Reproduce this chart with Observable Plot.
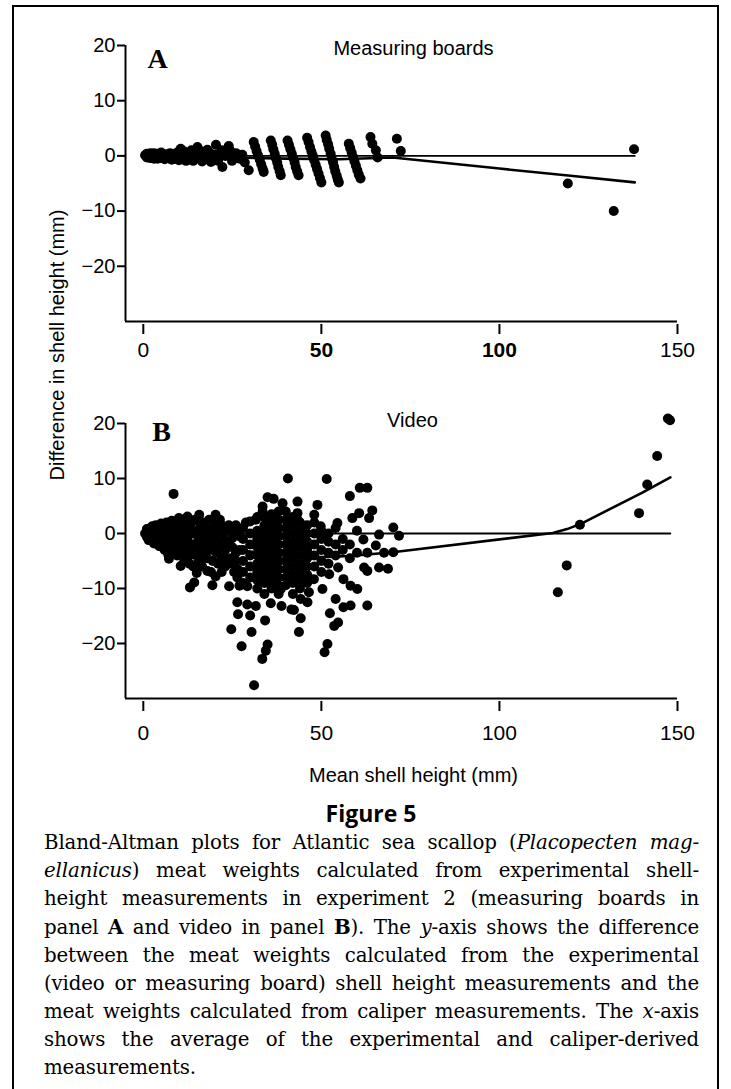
<!DOCTYPE html>
<html><head><meta charset="utf-8">
<script src="https://cdn.jsdelivr.net/npm/d3@7"></script>
<script src="https://cdn.jsdelivr.net/npm/@observablehq/plot@0.6"></script>
<style>
body{margin:0;background:#fff;}
#page{position:relative;width:731px;height:1089px;overflow:hidden;font-family:"Liberation Sans",Arial,sans-serif;color:#000;}
#frame{position:absolute;left:12px;top:5px;width:703px;height:1200px;border:2px solid #000;}
#pa{position:absolute;left:0;top:0;}
#pb{position:absolute;left:0;top:380px;}
#ylab{position:absolute;left:57px;top:345px;transform:translate(-50%,-50%) rotate(-90deg);white-space:nowrap;font-size:20px;}
#fig{position:absolute;left:0;width:742px;top:797px;text-align:center;font-family:"Open Sans","Noto Sans",sans-serif;font-weight:700;font-size:23px;}
#cap{position:absolute;left:44px;top:829px;width:655px;font-family:"DejaVu Serif",serif;font-size:19.8px;line-height:28px;letter-spacing:-0.15px;}
#cap div{text-align:justify;text-align-last:justify;white-space:nowrap;}
#cap div.last{text-align-last:left;}
</style></head>
<body><div id="page">
<div id="frame"></div>
<div id="pa"></div>
<div id="pb"></div>
<div id="ylab">Difference in shell height (mm)</div>
<div id="fig">Figure 5</div>
<div id="cap">
<div>Bland-Altman plots for Atlantic sea scallop (<i>Placopecten mag-</i></div>
<div><i>ellanicus</i>) meat weights calculated from experimental shell-</div>
<div>height measurements in experiment 2 (measuring boards in</div>
<div>panel <b>A</b> and video in panel <b>B</b>). The <i>y</i>-axis shows the difference</div>
<div>between the meat weights calculated from the experimental</div>
<div>(video or measuring board) shell height measurements and the</div>
<div>meat weights calculated from caliper measurements. The <i>x</i>-axis</div>
<div>shows the average of the experimental and caliper-derived</div>
<div class="last">measurements.</div>
</div>
</div>
<script>
const xTicks = [0, 50, 100, 150];
const yTicks = [-20, -10, 0, 10, 20];
const panelTitles = ["Measuring boards", "Video"];
const panelLetters = ["A", "B"];
const xLabel = "Mean shell height (mm)";

// Panel A: measuring boards [mean, difference]
const boardPts = [
[0.5,0.1],[1,0.4],[1,-0.3],[1.5,0],[2,0.5],[2,-0.4],[2.5,0.1],[3,-0.5],[3,0.5],[3.5,0],[4,0.4],[4,-0.5],[4.5,0.1],[5,0.6],[5,-0.4],[5.5,0],[6,-0.6],[6.5,0.3],[7,-0.3],[7.5,0.5],[8,-0.7],[8.5,0.2],[9,-0.5],[9.5,0.6],[10,-0.8],[10.5,1.3],[10.5,0],[11,-0.6],[11.5,0.8],[12,-0.9],[12.5,0.3],[13,-0.5],[13.5,1],[14,-0.9],[14.5,0.4],[15.2,1.6],[15.5,-0.3],[16,0.9],[16.5,-1],[17,0.3],[17.5,-0.6],[18,1.1],[19,-1.1],[19,0.4],[20.4,2],[20.5,0.2],[21,-0.9],[22.2,-2],[22,1],[23,0],
[24,1.8],[24.3,1],[24.6,0.2],[24.9,-0.9],[26,0.5],[27,-0.5],[27.8,0.2],[28.5,-1.2],[29.6,-2.6],
[31,2.5],[31.4,1.7],[31.8,0.9],[32.2,0.1],[32.7,-0.7],[33.1,-1.5],[33.5,-2.3],[33.8,-2.9],
[35.8,2.8],[36.2,2],[36.5,1.2],[36.9,0.4],[37.2,-0.4],[37.6,-1.2],[37.9,-2],[38.3,-2.8],[38.6,-3.5],
[40.5,2.8],[40.9,2],[41.3,1.2],[41.7,0.4],[42.1,-0.4],[42.5,-1.2],[42.8,-2],[43.2,-2.8],[43.6,-3.5],
[46,3.3],[46.4,2.5],[46.8,1.6],[47.2,0.8],[47.6,0],[48,-0.8],[48.4,-1.6],[48.8,-2.4],[49.2,-3.2],[49.6,-4],[50,-4.8],
[51.2,3.7],[51.5,2.9],[51.9,2.1],[52.2,1.3],[52.6,0.4],[52.9,-0.4],[53.3,-1.2],[53.6,-2],[53.9,-2.8],[54.3,-3.6],[54.6,-4.3],[54.9,-4.8],
[57.7,2.2],[58.1,1.4],[58.5,0.6],[58.9,-0.2],[59.3,-1],[59.7,-1.8],[60.1,-2.6],[60.5,-3.4],[61,-4.1],
[63.8,3.4],[64.3,2.2],[65.3,1],[65.8,-0.3],
[71.2,3.1],[72.3,0.9],
[119.2,-5],[132.1,-10],[137.8,1.2]
];
const boardZero = [[0,0],[138,0]];
const boardFit = [[1,0],[20,-0.2],[40,-0.5],[55,-0.6],[70,-0.3],[100,-2.3],[120,-3.6],[138,-4.8]];

// Panel B: video [mean, difference]
const videoPts = [
[0.5,0],[1,0.8],[1,-0.6],[1.5,0.3],[2,-1],[2,1],[2.5,0],[3,-0.5],[3,0.8],[3.5,-1.5],[4,0.5],[4,-0.8],[4.5,1.2],[5,-0.2],[5,-1.8],[5.5,0.8],[6,-1],[6,1.3],[6.5,-2.5],[7,0.2],[7,-1.5],[7.5,1],[7.2,-4.6],[8,-0.5],[8,-2.2],[8.5,7.2],[8.5,1.5],
[1.5,-1.2],[2.5,1.3],[3,-1.8],[3.5,1.5],[4.5,-2.3],[5,1.8],[6,-3],[6.5,2],[7,-3.8],[8,2.3],[8.5,-1.5],[9,1.5],[9.5,-4],[10,0.8],[11,2.5],[11,-2.8],[11.5,-4.8],[12,-1.5],[12.5,1],[13,-5.5],[13.5,2],[14,-3.8],[15,0.5],[15,-2.5],[16,-4],[16.5,-6],[17,-2.5],[17.5,0.8],[18,-4.5],[18.5,2.5],[19,-7],[19.5,-3],[20,0.5],[21,-5.5],[21,-3],[21.5,2.5],[22,-7],[22.5,0],[23,-4.5],[23.5,-1.8],[24,1.5],[25,-5.5],[25,-0.8],[26,-3.5],[26.5,-6.5],[27,0.5],[27,-9.5],
[9,-3],[9,0.5],[9.5,-1.2],[10,2.8],[10,-0.3],[10,-2],[10.5,-5.9],[10.5,1.5],[11,-3.5],[11,-1],[11.5,0.5],[12,-2.5],[12,2],[12.4,3.1],[12.5,-4.2],[12.5,-0.5],[13,1],[13,-1.8],[13.1,-9.8],[13.5,-3.2],[14,0],[14,-6],[14.3,-8.9],[14.5,2.5],[14.5,-2],
[15,-7.2],[15,-4],[15.4,-5.3],[15.5,-1],[15.7,3.4],[16,1.2],[16,-2.8],[16.5,0],[17,-4.5],[17,2],[17.5,-1.5],[18,-6.8],[18,-3],[18,0.8],[18.5,-0.5],[19,-2],[19.4,-9.4],[19.5,-5],[19.9,1.9],[20,-0.8],[20.3,-7.8],[20.3,3.4],[20.5,-3.5],[21,0.5],[21.5,-2],[22,-4.5],[22,1.5],[22.5,-1],
[23,-6],[23,-3],[23.6,0.7],[24,-1.5],[24.1,-9.6],[24.5,-4.5],[24.7,-17.4],[25,-2.5],[25.5,0.4],[25.5,-7],[26,-5],[26,1.5],[26.4,-8],[26.4,-12.5],[26.6,-14.7],[27,-3],[27,-0.5],[27.6,-20.5],
[28,-9],[28,-7],[28,-5],[28,-3],[28,-1],[28,1],[28.8,2],[29.2,-9.6],[29.2,-12.9],
[30,-14.9],[30,-8],[30,-6],[30,-4],[30,-2],[30,0],[30,2.2],[30.4,-17.9],[31.1,-27.6],[31.6,-13.2],[31.6,2.5],
[32,-10],[32,-8.5],[32,-7],[32,-5.5],[32,-4],[32,-2.5],[32,-1],[32,0.5],[32,3],[33.4,-22.8],[33.5,4],[33.5,4.9],
[34,-11],[34,-9],[34,-7.5],[34,-6],[34,-4.5],[34,-3],[34,-1.5],[34,0],[34,1.5],[34,3],[34.2,-15.8],[34.4,-21.3],[34.9,-20.2],[34.9,6.6],[35.8,-12.7],
[36,-10],[36,-8.5],[36,-7],[36,-5.5],[36,-4],[36,-2.5],[36,-1],[36,0.5],[36,2],[36,3.5],[36.6,6.3],
[38,-11],[38,-9.5],[38,-8],[38,-6.5],[38,-5],[38,-3.5],[38,-2],[38,-0.5],[38,1],[38,2.5],[38,4],[38.6,-10.1],[38.8,-13.2],[39.1,5.5],
[40,-9.4],[40,-8],[40,-6.5],[40,-5],[40,-3.5],[40,-2],[40,-0.5],[40,1],[40,2.5],[40,4],[40.6,10],[41.6,-13.8],
[42,-11],[42,-9],[42,-7.5],[42,-6],[42,-4.5],[42,-3],[42,-1.5],[42,0],[42,1.5],[42,3],[42.3,-13.9],[43.3,5.8],[43.3,3.7],[43.3,2.5],[43.7,-17.9],
[44,-10],[44,-8.5],[44,-7],[44,-5.5],[44,-4],[44,-2.5],[44,-1],[44,0.5],[44,2],[44.2,-11.9],[44.2,-15.4],
[46,-9],[46,-7.5],[46,-6],[46,-4.5],[46,-3],[46,-1.5],[46,0],[46,1.5],[46.1,-12.5],[46.5,-10.7],[47.9,-8.3],
[48,-6],[48,-4],[48,-2],[48,0],[48,2],[48,3.4],[48.9,5.2],[49.8,1.3],
[50,-7],[50,-5],[50,-3],[50,-1],[50,0.5],[50.3,-10.1],[50.9,-21.6],[51.7,-20.1],[51.5,9.9],
[52,-5.5],[52,-3.5],[52,-1.5],[52,0],[52.2,-7.4],[52.4,-14.5],[53.6,-16.8],[54.7,-16.2],
[54,-11.9],[54,-4],[54,-2],[54,1],[54.5,1.9],[54.7,-6.2],[56,-3],[56,-1],[56.2,-8.3],[56.2,-13.4],
[58.2,-13.1],[58.2,-9.5],[58,6.8],[58.7,2.8],[58,-2],[58,-4.5],
[60.1,-10.1],[60.6,3.7],[60.8,8.3],[60,0.5],[60,-3.5],
[61.8,-1.1],[62,-6.2],[62.9,-6.8],[62.9,-3.5],[62.9,-13.1],[62.9,8.3],[63.4,2.8],[64.3,4.2],
[65.3,-2.2],[66.2,-0.2],[66.2,-6.2],[67.6,-3.5],[68.7,-6.4],[70.2,1.1],[70.2,-3.4],[71.8,-0.4],
[116.4,-10.7],[118.9,-5.8],[122.6,1.6],[139.2,3.7],[141.5,8.9],[144.3,14.1],[147.3,20.9],[147.9,20.6]
];
const videoZero = [[0,0],[148,0]];
const videoFit = [[1,-0.3],[10,-1.2],[20,-2.3],[30,-3.3],[40,-4],[50,-4.3],[58,-4.1],[70,-3.4],[115,0.1],[119,0.8],[123,1.8],[140,7.4],[148,10.2]];

const font = '"Liberation Sans", Arial, sans-serif';

function panel(o) {
  const marks = [
    Plot.ruleX([-5], {y1: -30, y2: 20, strokeWidth: 2}),
    Plot.ruleY([-30], {x1: -5, x2: 150, strokeWidth: 2}),
    Plot.axisY({ticks: yTicks, tickSize: 8, tickPadding: 2, label: null, strokeWidth: 2, fontSize: 20, fontFamily: font}),
    Plot.axisX({ticks: xTicks, tickSize: 10, tickPadding: o.xPad, label: null, strokeWidth: 2, fontSize: 21, fontFamily: font}),
    Plot.line(o.zero, {x: d => d[0], y: d => d[1], strokeWidth: 1.8}),
    Plot.line(o.fit, {x: d => d[0], y: d => d[1], strokeWidth: 2.6}),
    Plot.dot(o.pts, {x: d => d[0], y: d => d[1], r: 5, fill: "#000", stroke: null}),
    Plot.text([o.letter], {frameAnchor: "top-left", dx: o.letterDx, dy: o.letterDy, fontFamily: '"Liberation Serif", "Times New Roman", serif', fontWeight: "bold", fontSize: 28, textAnchor: "middle", lineAnchor: "middle"}),
    Plot.text([o.title], {frameAnchor: "top-left", dx: o.titleDx, dy: o.titleDy, fontSize: 20, fontFamily: font, textAnchor: "middle", lineAnchor: "middle"})
  ];
  if (o.xlab) marks.push(Plot.text([o.xlab], {frameAnchor: "bottom", dx: 12, dy: 74, fontSize: 20, fontFamily: font, lineAnchor: "middle"}));
  return Plot.plot({
    width: 731, height: o.height,
    marginLeft: 125, marginRight: 54, marginTop: o.mt, marginBottom: o.mb,
    style: {fontFamily: font, color: "#000", background: "transparent", overflow: "visible"},
    x: {domain: [-5, 150]},
    y: {domain: [-30.55, 20]},
    marks
  });
}

const svgA = panel({pts: boardPts, zero: boardZero, fit: boardFit, letter: panelLetters[0], title: panelTitles[0],
  height: 380, mt: 45, mb: 56, xPad: 8, letterDx: 32, letterDy: 14, titleDx: 288, titleDy: 3});
svgA.querySelectorAll('[aria-label="x-axis tick label"] text').forEach(t => {
  if (t.textContent === "50" || t.textContent === "100") t.setAttribute("font-weight", "bold");
});
document.getElementById("pa").appendChild(svgA);

const svgB = panel({pts: videoPts, zero: videoZero, fit: videoFit, letter: panelLetters[1], title: panelTitles[1], xlab: xLabel,
  height: 420, mt: 43, mb: 99, xPad: 14, letterDx: 36, letterDy: 9, titleDx: 287, titleDy: -3});
document.getElementById("pb").appendChild(svgB);
</script>
</body></html>
